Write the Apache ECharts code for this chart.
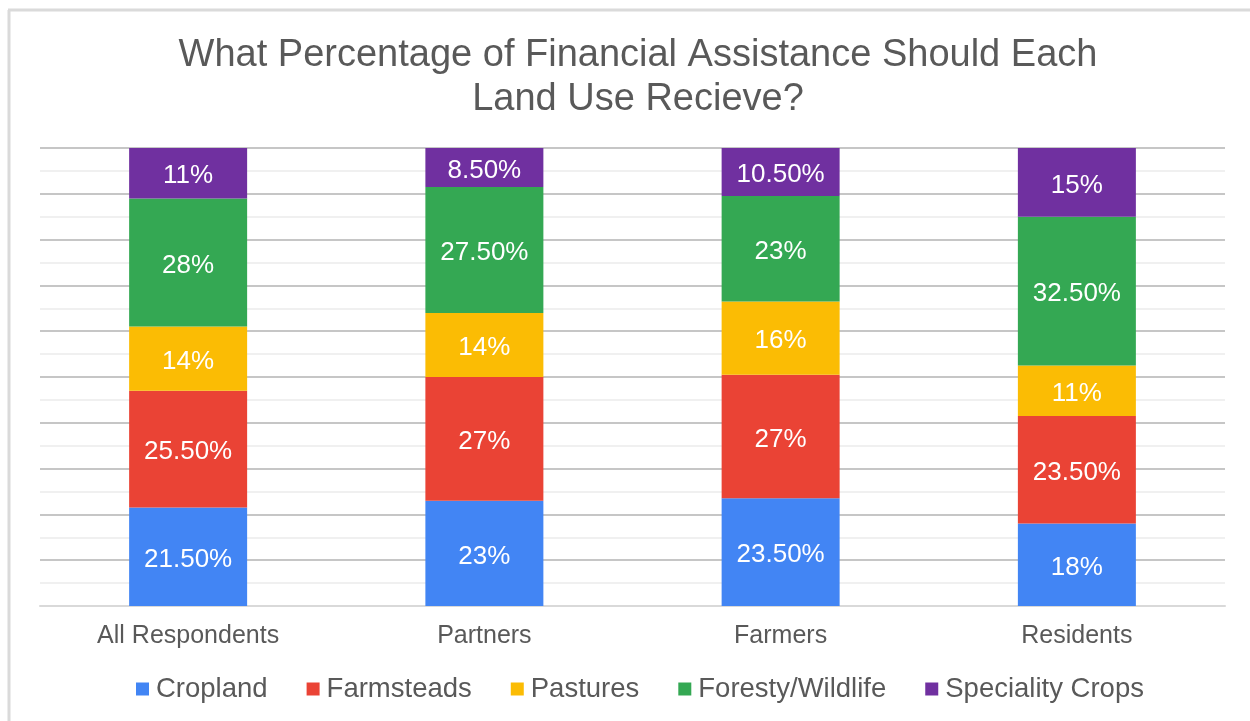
<!DOCTYPE html>
<html>
<head>
<meta charset="utf-8">
<script src="https://cdn.jsdelivr.net/npm/echarts@6/dist/echarts.min.js"></script>
<style>
html,body{margin:0;padding:0;background:#fff;}
#chart{width:1250px;height:721px;}
</style>
</head>
<body>
<div id="chart"></div>
<script>
const categories = ['All Respondents', 'Partners', 'Farmers', 'Residents'];
const cropland = [21.5, 23, 23.5, 18];
const farmsteads = [25.5, 27, 27, 23.5];
const pastures = [14, 14, 16, 11];
const forestry = [28, 27.5, 23, 32.5];
const speciality = [11, 8.5, 10.5, 15];
const seriesNames = ['Cropland', 'Farmsteads', 'Pastures', 'Foresty/Wildlife', 'Speciality Crops'];
const seriesColors = ['#4285F4', '#EA4335', '#FBBC04', '#34A853', '#7030A0'];
const seriesData = [cropland, farmsteads, pastures, forestry, speciality];

const fontFam = '"Liberation Sans", Arial, sans-serif';
function fmt(p) {
  const v = p.value;
  return (Number.isInteger(v) ? String(v) : v.toFixed(2)) + '%';
}

const chart = echarts.init(document.getElementById('chart'), null, {renderer: 'canvas'});
chart.setOption({
  animation: false,
  backgroundColor: '#ffffff',
  title: {
    text: 'What Percentage of Financial Assistance Should Each\nLand Use Recieve?',
    left: 633,
    textAlign: 'center',
    top: 29,
    textStyle: {
      fontFamily: fontFam,
      fontSize: 38,
      fontWeight: 'normal',
      color: '#595959',
      lineHeight: 44
    }
  },
  legend: {
    top: 670,
    left: 131,
    itemWidth: 13,
    itemHeight: 13,
    itemGap: 39,
    icon: 'rect',
    textStyle: {fontFamily: fontFam, fontSize: 27.5, color: '#595959', padding: [0, 0, 0, 2]},
    data: seriesNames
  },
  grid: {left: 40, right: 25, top: 148, bottom: 115, containLabel: false},
  xAxis: {
    type: 'category',
    data: categories,
    axisTick: {show: false},
    axisLine: {show: true, lineStyle: {color: '#d9d9d9', width: 2}},
    axisLabel: {fontFamily: fontFam, fontSize: 25, color: '#595959', margin: 18}
  },
  yAxis: {
    type: 'value',
    min: 0,
    max: 100,
    interval: 10,
    axisLabel: {show: false},
    axisLine: {show: false},
    axisTick: {show: false},
    splitLine: {show: true, lineStyle: {color: '#c6c6c6', width: 2}},
    minorTick: {show: false, splitNumber: 2},
    minorSplitLine: {show: true, lineStyle: {color: '#f0f0f0', width: 2}}
  },
  graphic: [
    {type: 'line', shape: {x1: 8, y1: 10, x2: 1250, y2: 10}, style: {stroke: '#dadada', lineWidth: 3}, z: 100},
    {type: 'line', shape: {x1: 9, y1: 10, x2: 9, y2: 721}, style: {stroke: '#dadada', lineWidth: 3}, z: 100}
  ],
  series: seriesNames.map((name, i) => ({
    name: name,
    type: 'bar',
    stack: 'total',
    barWidth: 118,
    data: seriesData[i],
    itemStyle: {color: seriesColors[i]},
    label: {
      show: true,
      position: 'inside',
      offset: [0, 3],
      color: '#ffffff',
      fontFamily: fontFam,
      fontSize: 26,
      formatter: fmt
    }
  }))
});
</script>
</body>
</html>
